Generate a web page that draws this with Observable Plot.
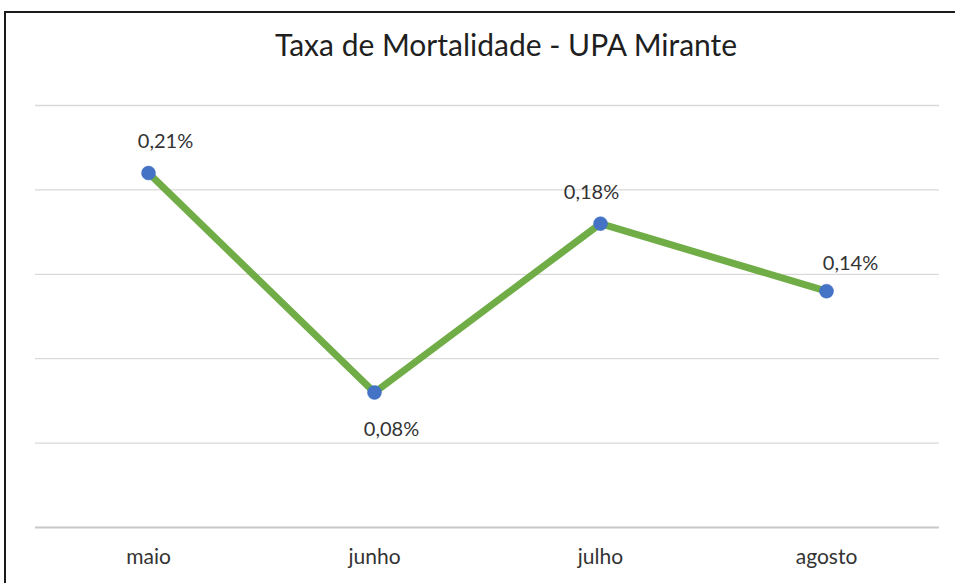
<!DOCTYPE html>
<html>
<head>
<meta charset="utf-8">
<script src="https://cdn.jsdelivr.net/npm/d3@7"></script>
<script src="https://cdn.jsdelivr.net/npm/@observablehq/plot@0.6"></script>
<style>
  html, body { margin: 0; padding: 0; background: #fff; width: 955px; height: 583px; overflow: hidden; }
  #frame { position: absolute; left: 4px; top: 11px; width: 1000px; height: 700px; border: 2.5px solid #1a1a1a; box-sizing: border-box; }
  #title { position: absolute; left: 0; top: 26px; width: 1012px; text-align: center; font-family: Lato, "Open Sans", sans-serif; font-size: 30px; color: #1f1f1f; }
  #chart { position: absolute; left: 0; top: 0; }
</style>
</head>
<body>
<div id="frame"></div>
<div id="title">Taxa de Mortalidade - UPA Mirante</div>
<div id="chart"></div>
<script>
const months = ["maio", "junho", "julho", "agosto"];
const rates = [0.21, 0.08, 0.18, 0.14];
const gridTicks = [0, 0.05, 0.10, 0.15, 0.20, 0.25];

const data = months.map((m, i) => ({ month: m, rate: rates[i] }));
const isValley = (i) => i > 0 && i < rates.length - 1 && rates[i] < rates[i - 1] && rates[i] < rates[i + 1];
const fmt = (v) => v.toFixed(2).replace(".", ",") + "%";
// manual nudges of the data labels, as in the original chart
const labelNudgeX = [17, 17, -9, 24];

const labelMarks = data.map((d, i) =>
  Plot.text([d], {
    x: "month", y: "rate", text: r => fmt(r.rate),
    dx: labelNudgeX[i], dy: isValley(i) ? 37 : (i === 3 ? -28 : -31),
    fontSize: 20, fill: "#333"
  })
);

const plot = Plot.plot({
  width: 955,
  height: 583,
  marginLeft: 35,
  marginRight: 16,
  marginTop: 105,
  marginBottom: 56,
  style: { background: "transparent", fontFamily: "Lato, 'Open Sans', sans-serif", overflow: "visible" },
  x: { type: "point", domain: months, padding: 0.5, label: null, axis: null },
  y: { domain: [0, 0.25], label: null, axis: null },
  marks: [
    Plot.ruleY(gridTicks.filter(t => t > 0), { stroke: "#d9d9d9", strokeWidth: 1.3 }),
    Plot.ruleY([0], { stroke: "#c8c8c8", strokeWidth: 2 }),
    Plot.axisX({ tickSize: 0, tickPadding: 22, fontSize: 21, fill: "#333", label: null }),
    Plot.line(data, { x: "month", y: "rate", stroke: "#70ad47", strokeWidth: 7, strokeLinejoin: "round" }),
    Plot.dot(data, { x: "month", y: "rate", r: 7, fill: "#4472c4", stroke: "#4472c4", strokeWidth: 0.5 }),
    ...labelMarks
  ]
});
document.getElementById("chart").appendChild(plot);
</script>
</body>
</html>
